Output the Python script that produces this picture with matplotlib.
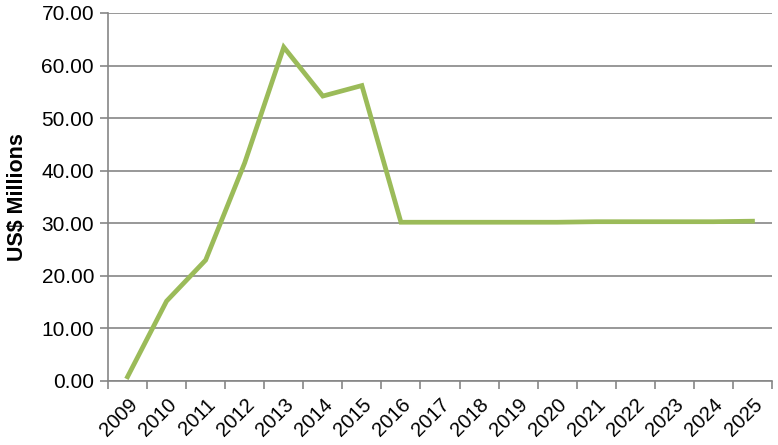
import matplotlib.pyplot as plt
import numpy as np

plt.rcParams['font.family'] = ['Liberation Sans', 'DejaVu Sans']

# Dados
anos = [str(a) for a in range(2009, 2026)]
valores = [0.8, 15.2, 23.0, 41.5, 63.5, 54.2, 56.2, 30.2, 30.2, 30.2,
           30.2, 30.2, 30.3, 30.3, 30.3, 30.3, 30.4]

fig = plt.figure(figsize=(7.78, 4.45), dpi=100)
ax = fig.add_axes([108 / 778, 1 - 381 / 445, 664 / 778, 368 / 445])

x = np.arange(len(anos))
ax.plot(x, valores, color="#9BBB59", linewidth=3.4, solid_joinstyle="miter", zorder=3)

ax.set_xlim(-0.5, len(anos) - 0.5)
ax.set_ylim(0, 70)
ax.set_yticks(np.arange(0, 71, 10))
ax.set_yticklabels([f"{v:.2f}" for v in np.arange(0, 71, 10)], fontsize=15)
ax.set_xticks(x)
ax.set_xticklabels(anos, rotation=45, ha="right", rotation_mode="anchor", fontsize=14.5)
ax.set_xticks(np.arange(-0.5, len(anos)), minor=True)
ax.tick_params(axis="x", which="major", length=0, pad=10)
ax.tick_params(axis="x", which="minor", length=6, color="#868686", width=1.2)
ax.tick_params(axis="y", length=6, color="#868686", width=1.2, pad=4)

ax.grid(True, axis="y", color="#868686", linewidth=1.2)
ax.set_axisbelow(True)
for s in ["top", "right"]:
    ax.spines[s].set_visible(False)
for s in ["left", "bottom"]:
    ax.spines[s].set_color("#868686")
    ax.spines[s].set_linewidth(1.2)

ax.set_ylabel("US$ Millions", fontsize=15.5, fontweight="bold", labelpad=10)

fig.savefig("out.png", dpi=100)
